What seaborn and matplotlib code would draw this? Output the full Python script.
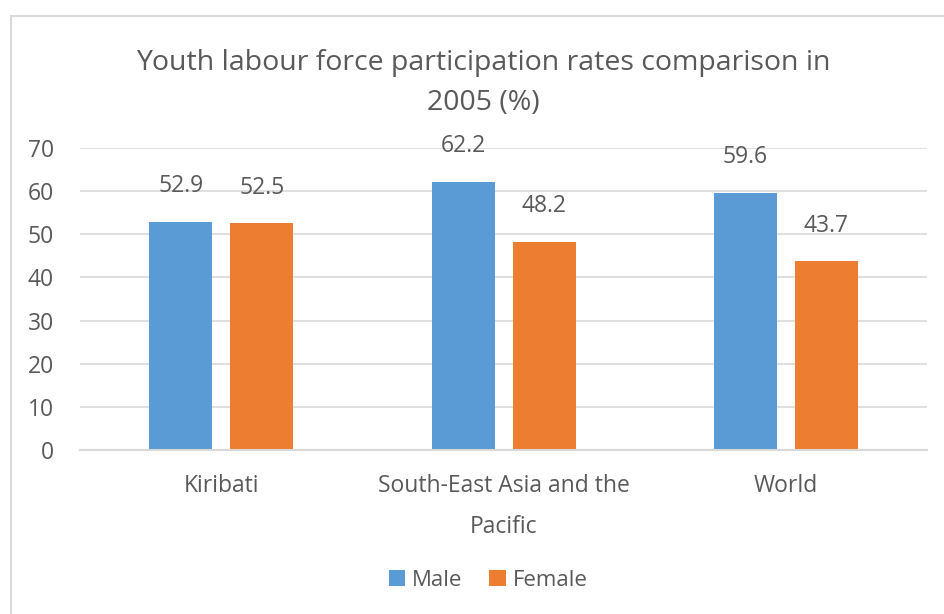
import pandas as pd
import matplotlib.pyplot as plt
import seaborn as sns
from matplotlib.patches import Rectangle

# data
regions = ["Kiribati", "South-East Asia and the\nPacific", "World"]
male = [52.9, 62.2, 59.6]
female = [52.5, 48.2, 43.7]

df = pd.DataFrame({
    "Region": regions * 2,
    "Sex": ["Male"] * 3 + ["Female"] * 3,
    "Rate": male + female,
})

sns.set_style("white")
plt.rcParams['font.family'] = ['Open Sans', 'DejaVu Sans']
text_col = "#595959"
grid_col = "#d9d9d9"

fig = plt.figure(figsize=(9.44, 6.14), dpi=100)
ax = fig.add_axes([0.085, 0.267, 0.897, 0.492])

sns.barplot(
    data=df, x="Region", y="Rate", hue="Sex",
    palette={"Male": "#5B9BD5", "Female": "#ED7D31"},
    width=0.574, gap=0.22, saturation=1, linewidth=0,
    ax=ax, legend=True,
)

for c in ax.containers:
    ax.bar_label(c, fmt="%.1f", padding=17, fontsize=16.5, color=text_col)

ax.set_ylim(0, 70)
ax.set_xlim(-0.5, 2.5)
ax.set_yticks(range(0, 71, 10))
ax.yaxis.grid(True, color=grid_col, linewidth=1.2)
ax.set_axisbelow(True)
for s in ["top", "right", "left"]:
    ax.spines[s].set_visible(False)
ax.spines["bottom"].set_color(grid_col)
ax.spines["bottom"].set_linewidth(1.5)
ax.tick_params(axis="both", length=0, labelsize=16.5, colors=text_col)
ax.tick_params(axis="y", pad=19)
ax.tick_params(axis="x", pad=17)
for t in ax.get_xticklabels():
    t.set_linespacing(1.95)
ax.set_xlabel("")
ax.set_ylabel("")

fig.text(0.512, 0.865, "Youth labour force participation rates comparison in\n2005 (%)",
         ha="center", va="center", fontsize=20.5, color=text_col, linespacing=1.55)

ax.legend(loc="center", bbox_to_anchor=(0.517, 0.055), bbox_transform=fig.transFigure,
          ncol=2, frameon=False, fontsize=16, labelcolor=text_col,
          handlelength=0.75, handleheight=0.75, handletextpad=0.3, columnspacing=1.2)

# chart border
fig.patches.append(Rectangle((11 / 944, -0.05), 1.0, 1 - 16 / 614 + 0.05,
                             transform=fig.transFigure, fill=False,
                             edgecolor=grid_col, linewidth=1.5))

plt.savefig("out.png", dpi=100)
